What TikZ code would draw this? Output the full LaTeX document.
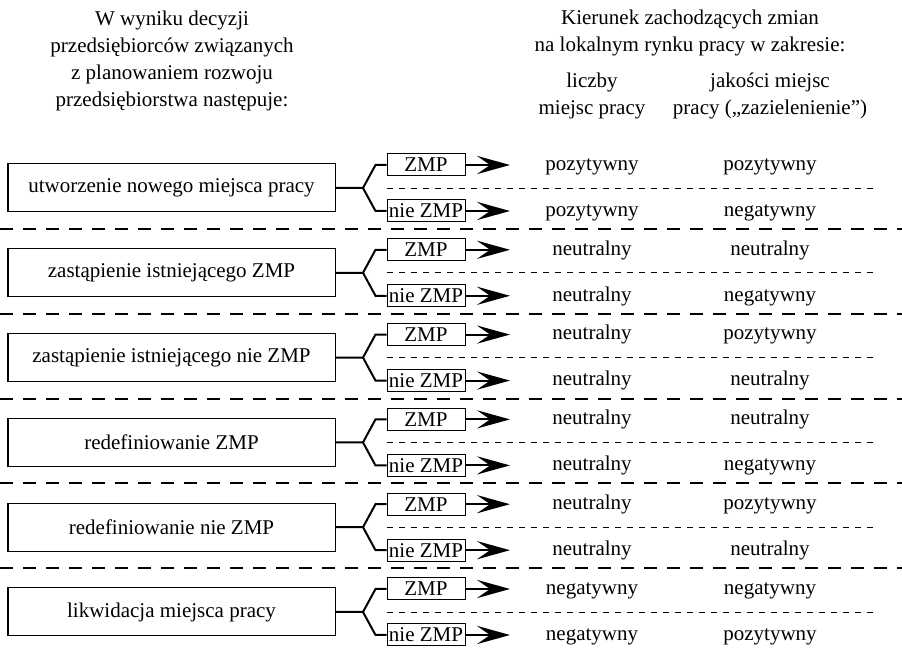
\documentclass[tikz,border=0pt]{standalone}
\usepackage{fontspec}
\setmainfont{Liberation Serif}
\usetikzlibrary{arrows.meta,positioning}
\tikzset{
  every node/.style={font=\fontsize{10.5}{13.5}\selectfont},
  decbox/.style={draw,line width=0.5pt,minimum width=163.5pt,minimum height=24pt,inner sep=0pt},
  tag/.style={draw,line width=0.5pt,minimum width=39pt,minimum height=11pt,inner sep=0pt},
  val/.style={text height=1.6ex,text depth=0.45ex,inner sep=0pt},
  fork/.style={line width=1pt},
  arr/.style={line width=1pt,-{Stealth[length=5.8mm,width=3.2mm,inset=2.3mm]}},
  sep/.style={line width=1pt,dash pattern=on 6.5pt off 5pt},
  sub/.style={line width=0.4pt,dash pattern=on 3pt off 3pt},
  hdr/.style={align=center},
}
\begin{document}
\begin{tikzpicture}[x=0.5pt,y=-0.5pt]
  \useasboundingbox (0,0) rectangle (902,651);
  % headers
  \node[hdr] (hl) at (172,61) {W wyniku decyzji\\przedsiębiorców związanych\\z planowaniem rozwoju\\przedsiębiorstwa następuje:};
  \node[hdr] (hr) at (690,33) {Kierunek zachodzących zmian\\na lokalnym rynku pracy w zakresie:};
  \node[hdr] (ha) at (592,96) {liczby\\miejsc pracy};
  \node[hdr] (hb) at (770,96) {jakości miejsc\\pracy („zazielenienie”)};
  % decisions
  \foreach \i/\txt/\a/\b/\c/\d in {
      0/utworzenie nowego miejsca pracy/pozytywny/pozytywny/pozytywny/negatywny,
      1/zastąpienie istniejącego ZMP/neutralny/neutralny/neutralny/negatywny,
      2/zastąpienie istniejącego nie ZMP/neutralny/pozytywny/neutralny/neutralny,
      3/redefiniowanie ZMP/neutralny/neutralny/neutralny/negatywny,
      4/redefiniowanie nie ZMP/neutralny/pozytywny/neutralny/neutralny,
      5/likwidacja miejsca pracy/negatywny/negatywny/negatywny/pozytywny} {
    \pgfmathsetmacro{\cy}{188+84.8*\i}
    \node[decbox] (d\i) at (171.5,\cy) {\txt};
    \node[tag] (z\i) at (426,\cy-23) {ZMP};
    \node[tag] (n\i) at (426,\cy+23) {nie ZMP};
    \coordinate (j\i) at (363,\cy);
    \coordinate (za\i) at (510,\cy-23);
    \coordinate (na\i) at (510,\cy+23);
    \draw[fork] (d\i.east) -- (j\i) -- ([xshift=-5.5pt]z\i.west) -- (z\i.west);
    \draw[fork] (j\i) -- ([xshift=-5.5pt]n\i.west) -- (n\i.west);
    \draw[arr] (z\i.east) -- (za\i);
    \draw[arr] (n\i.east) -- (na\i);
    \node[val] (va\i) at (592,\cy-23) {\a};
    \node[val] (vb\i) at (770,\cy-23) {\b};
    \node[val] (wa\i) at (592,\cy+23) {\c};
    \node[val] (wb\i) at (770,\cy+23) {\d};
    \coordinate (s\i) at (875,\cy);
    \draw[sub] (n\i.west |- j\i) -- (s\i);
  }
  \foreach \i in {0,...,4} {
    \coordinate (ll\i) at (0,{229+84.8*\i});
    \coordinate (lr\i) at (902,{229+84.8*\i});
    \draw[sep] (ll\i) -- (lr\i);
  }
\end{tikzpicture}
\end{document}
